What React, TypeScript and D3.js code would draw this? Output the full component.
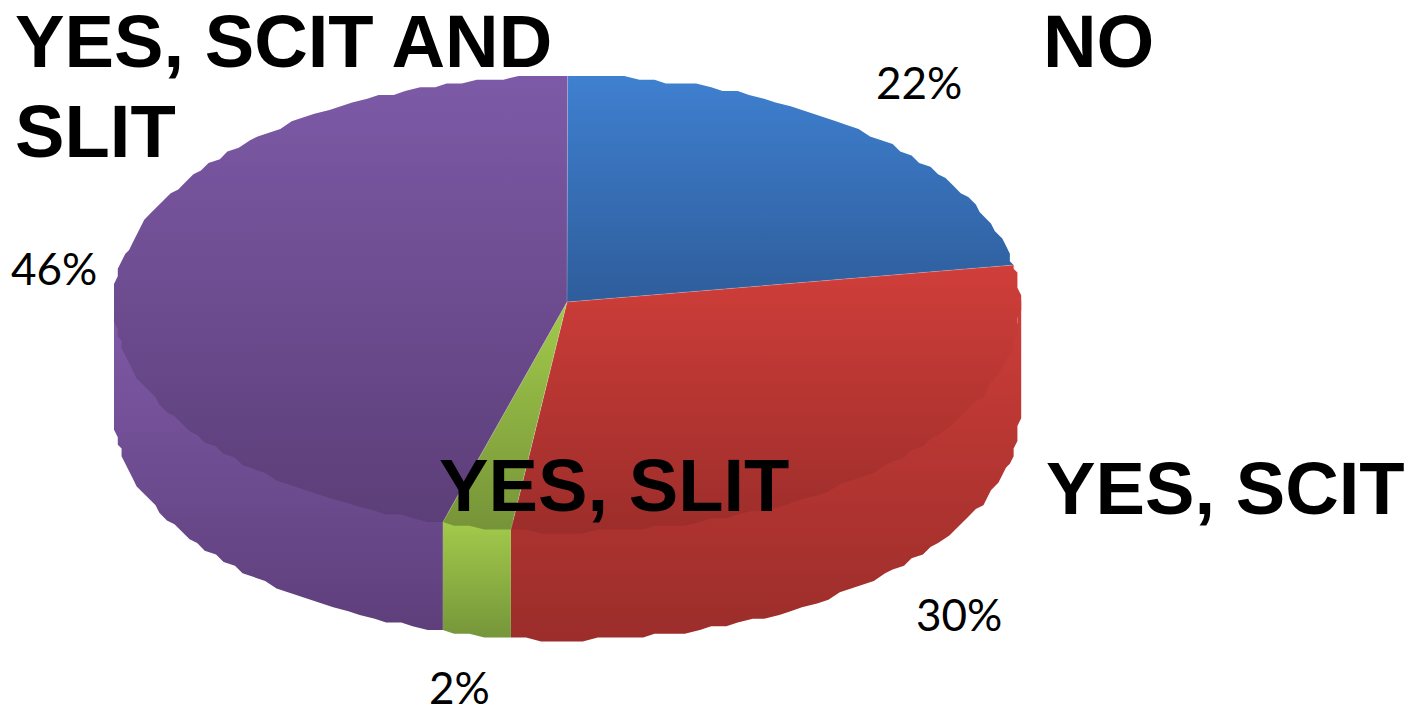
import * as d3 from "d3";

const categories = ["NO", "YES, SCIT", "YES, SLIT", "YES, SCIT AND SLIT"];
// slightly off the rounded labels: the slices in the picture are not exact
const shares = [22.3, 29.7, 2.4, 45.6];

const topColors = [
  ["#3f80d0", "#2e5d9b"],
  ["#d03e3a", "#9c2d2a"],
  ["#a2ca4b", "#769438"],
  ["#7d5aa7", "#5c3e78"],
];
const sideColors = [
  ["#3f80d0", "#2e5d9b"],
  ["#cc3d39", "#9b2d2a"],
  ["#a2ca4b", "#76963a"],
  ["#7f5aa8", "#5e3f7b"],
];

const width = 1408;
const height = 706;
const cx = 567;
const cy = 304;
const apexY = 302;
const rx = 453;
const ry = 228;
const depth = 108;
const STEP = 3.78; // outline of the source is stair-stepped, low-res look
const SAMPLE = 0.032;

const pct = d3.format(".0f");
const arcs = d3.pie<number>().sort(null)(shares);

// category labels, [text, x, baseline]
const catLabels: [string, number, number][] = [
  ["NO", 1043, 67],
  ["YES, SCIT", 1046, 514],
  ["YES, SLIT", 439, 511],
  ["YES, SCIT AND", 15, 67],
  ["SLIT", 15, 157],
];
// value labels, same order as shares
const valuePos: [number, number][] = [
  [876, 99],
  [916, 631],
  [429, 704],
  [11, 285],
];

const snapX = (v: number) => cx - rx + Math.round((v - (cx - rx)) / STEP) * STEP;
const snapY = (v: number) => cy - ry + Math.round((v - (cy - ry)) / STEP) * STEP;
const pt = (t: number, dy = 0): [number, number] => [
  snapX(cx + rx * Math.sin(t)),
  snapY(cy - ry * Math.cos(t)) + dy,
];

// coarse steps along the rim, both slice ends always included
function samples(a: number, b: number): number[] {
  const first = Math.ceil(a / SAMPLE);
  const last = Math.floor(b / SAMPLE);
  return [a, ...d3.range(first, last + 1).map((k) => k * SAMPLE), b];
}

const line = d3.line();

function topPath(a: number, b: number) {
  return line([[cx, apexY], ...samples(a, b).map((t) => pt(t))]) + "Z";
}

// upper edge of the wall runs under the top face so no seam shows
function sidePath(a: number, b: number) {
  const ts = samples(a, b);
  const under = ts.map((t): [number, number] => {
    const p = pt(t);
    return [p[0], p[1] - 10];
  });
  return line([...under, ...ts.slice().reverse().map((t) => pt(t, depth))]) + "Z";
}

const sides = arcs
  .map((d, i) => ({
    i,
    a: Math.max(d.startAngle, Math.PI / 2),
    b: Math.min(d.endAngle, (3 * Math.PI) / 2),
  }))
  .filter((s) => s.b > s.a);

function sideRange(s: { a: number; b: number }) {
  const ys = samples(s.a, s.b).map((t) => pt(t)[1]);
  return [d3.min(ys)!, d3.max(ys)! + depth];
}

export default function App() {
  return (
    <div style={{ position: "absolute", left: 0, top: 0 }}>
      <svg width={width} height={height} style={{ display: "block", background: "#fff" }}>
        <defs>
          {arcs.map((d, i) => {
            const ys = samples(d.startAngle, d.endAngle).map((t) => pt(t)[1]).concat(apexY);
            return (
              <linearGradient key={i} id={`top${i}`} gradientUnits="userSpaceOnUse"
                x1={0} x2={0} y1={d3.min(ys)} y2={d3.max(ys)}>
                <stop offset="0" stopColor={topColors[i][0]} />
                <stop offset="1" stopColor={topColors[i][1]} />
              </linearGradient>
            );
          })}
          {sides.map((s) => {
            const [y0, y1] = sideRange(s);
            return (
              <linearGradient key={s.i} id={`side${s.i}`} gradientUnits="userSpaceOnUse"
                x1={0} x2={0} y1={y0} y2={y1}>
                <stop offset="0" stopColor={sideColors[s.i][0]} />
                <stop offset="1" stopColor={sideColors[s.i][1]} />
              </linearGradient>
            );
          })}
        </defs>

        {/* walls first, top face over them */}
        {sides.map((s) => (
          <path key={s.i} d={sidePath(s.a, s.b)} fill={`url(#side${s.i})`} />
        ))}
        {arcs.map((d, i) => (
          <path key={i} d={topPath(d.startAngle, d.endAngle)} fill={`url(#top${i})`} />
        ))}
        {/* faint seams between slices */}
        {arcs.map((d, i) => (
          <path key={i} d={line([[cx, apexY], pt(d.startAngle)])!} stroke="#fff" strokeOpacity={0.25}
            strokeWidth={0.8} fill="none" />
        ))}

        {catLabels.map(([t, x, y]) => (
          <text key={t} x={x} y={y} fontFamily="'Liberation Sans', Arial, sans-serif"
            fontWeight={700} fontSize={74.2} fill="#000">{t}</text>
        ))}
        {shares.map((v, i) => (
          <text key={categories[i]} x={valuePos[i][0]} y={valuePos[i][1]} fontFamily="Lato, sans-serif"
            fontSize={44} fill="#000">{pct(v)}%</text>
        ))}
      </svg>
    </div>
  );
}
